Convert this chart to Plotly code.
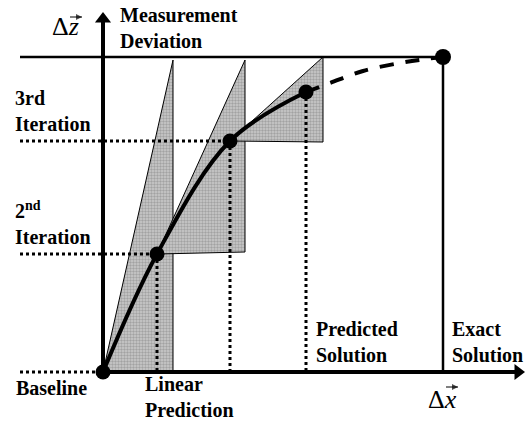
import plotly.graph_objects as go

# ---- data (diagram coordinates, origin at the baseline point) ----
iter_x = [0, 54, 127, 203]          # baseline, 2nd iteration, 3rd iteration, predicted solution
iter_y = [0, 118, 231, 280]
dash_x = [203, 227, 260, 297, 323, 340]   # extrapolated (dashed) path to exact solution
dash_y = [280, 289, 301, 309, 313, 315]
exact_x = 340
exact_y = 315

tri1_x = [0, 70, 70, 0]
tri1_y = [0, 312, 0, 0]
tri2_x = [54, 142, 142, 54]
tri2_y = [118, 312, 120, 118]
tri3_x = [127, 220, 220, 127]
tri3_y = [231, 315, 230, 231]

xaxis_end = 421
yaxis_top = 360
label_left = -83

FONT = "Liberation Serif"
fig = go.Figure()

# shaded linear-prediction wedges
for tx, ty in [(tri1_x, tri1_y), (tri2_x, tri2_y), (tri3_x, tri3_y)]:
    fig.add_trace(go.Scatter(x=tx, y=ty, mode="lines", fill="toself",
                             fillcolor="#bdbdbd",
                             fillpattern=dict(shape=".", bgcolor="#cccccc", fgcolor="#777777", size=3, solidity=0.5),
                             line=dict(color="black", width=1), hoverinfo="skip"))

# dotted guide lines
dot = dict(color="black", width=3, dash="dot")
for px_, py_ in zip(iter_x[:3], iter_y[:3]):
    fig.add_trace(go.Scatter(x=[label_left, px_], y=[py_, py_], mode="lines", line=dot))
for px_, py_ in zip(iter_x[1:], iter_y[1:]):
    fig.add_trace(go.Scatter(x=[px_, px_], y=[py_, 0], mode="lines", line=dot))

# top horizontal line and exact-solution vertical
fig.add_trace(go.Scatter(x=[label_left, exact_x], y=[exact_y, exact_y], mode="lines",
                         line=dict(color="black", width=2.5)))
fig.add_trace(go.Scatter(x=[exact_x, exact_x], y=[exact_y, 0], mode="lines",
                         line=dict(color="black", width=2.5)))

# axes with arrowheads
fig.add_trace(go.Scatter(x=[0, 0], y=[0, yaxis_top - 8], mode="lines",
                         line=dict(color="black", width=4)))
fig.add_trace(go.Scatter(x=[0], y=[yaxis_top - 7], mode="markers",
                         marker=dict(symbol="triangle-up", size=14, color="black")))
fig.add_trace(go.Scatter(x=[0, xaxis_end - 8], y=[0, 0], mode="lines",
                         line=dict(color="black", width=4)))
fig.add_trace(go.Scatter(x=[xaxis_end - 6], y=[0], mode="markers",
                         marker=dict(symbol="triangle-right", size=14, color="black")))

# solution curve
fig.add_trace(go.Scatter(x=iter_x, y=iter_y, mode="lines", line=dict(color="black", width=4, shape="spline")))
fig.add_trace(go.Scatter(x=dash_x, y=dash_y, mode="lines",
                         line=dict(color="black", width=4, dash="14px,12px", shape="spline")))
fig.add_trace(go.Scatter(x=iter_x, y=iter_y, mode="markers", marker=dict(color="black", size=15)))
fig.add_trace(go.Scatter(x=[exact_x], y=[exact_y], mode="markers", marker=dict(color="black", size=16)))

# small vector arrows over the axis symbols
for vx, vy in [([-33, -21], [355, 355]), ([343, 355], [-15, -15])]:
    fig.add_trace(go.Scatter(x=vx, y=vy, mode="lines+markers",
                             line=dict(color="black", width=1),
                             marker=dict(symbol=["line-ns", "arrow-right"], size=[0, 6], color="black",
                                         line=dict(width=0))))

bold = dict(family=FONT, size=20, color="black", weight="bold")
def lab(x, y, text, font=bold, ya="bottom", xa="left"):
    fig.add_annotation(x=x, y=y, text=text, showarrow=False, xanchor=xa, yanchor=ya,
                       align="left", font=font, xref="x", yref="y")

lab(15, 318, "Measurement<br>Deviation")
lab(-90, 235, "3rd<br>Iteration")
lab(-90, 122, "2<sup>nd</sup><br>Iteration")
lab(-89, -29, "Baseline")
lab(40, -51, "Linear<br>Prediction")
lab(211, 4, "Predicted<br>Solution")
lab(347, 4, "Exact<br>Solution")
serif = dict(family=FONT, size=26, color="black")
lab(-53, 329, "Δ<i>z</i>", serif)
lab(323, -44, "Δ<i>x</i>", serif)

fig.update_layout(width=526, height=423, margin=dict(l=0, r=0, t=0, b=0),
                  paper_bgcolor="white", plot_bgcolor="white", showlegend=False,
                  xaxis=dict(range=[-103, 423], visible=False, fixedrange=True),
                  yaxis=dict(range=[-51, 372], visible=False, fixedrange=True))
fig.write_html("out.html")
